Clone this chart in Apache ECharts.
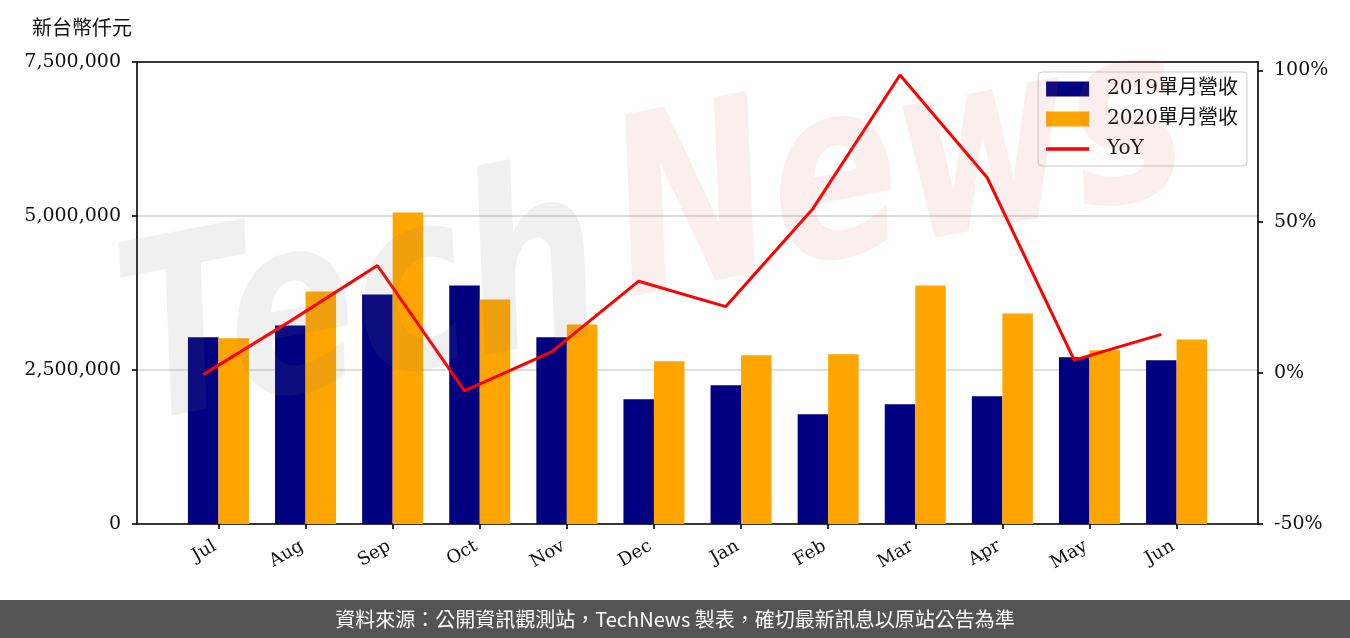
<!DOCTYPE html>
<html lang="zh-Hant">
<head>
<meta charset="utf-8">
<script src="https://cdn.jsdelivr.net/npm/echarts@6/dist/echarts.min.js"></script>
<style>
html,body{margin:0;padding:0;background:#fff;}
#chart{width:1350px;height:638px;}
</style>
</head>
<body>
<div id="chart"></div>
<script>
const months = ['Jul','Aug','Sep','Oct','Nov','Dec','Jan','Feb','Mar','Apr','May','Jun'];
const rev2019 = [3030000, 3224000, 3727000, 3872000, 3030000, 2025000, 2252000, 1782000, 1944000, 2074000, 2706000, 2657000];
const rev2020 = [3014000, 3775000, 5055000, 3645000, 3240000, 2641000, 2738000, 2754000, 3872000, 3419000, 2819000, 2997000];
const yoy = [-0.6, 17.1, 35.5, -6.0, 6.9, 30.3, 21.9, 54.3, 98.5, 64.6, 4.2, 12.7];
const leftTicks = [0, 2500000, 5000000, 7500000];
const rightTicks = [-50, 0, 50, 100];

const W = 0.35;
const tickIdx = months.map((m, i) => i);
const serif = '"DejaVu Serif", "Noto Sans CJK TC", serif';

const chart = echarts.init(document.getElementById('chart'), null, {renderer: 'canvas'});
chart.setOption({
  animation: false,
  backgroundColor: '#ffffff',
  grid: {left: 137, top: 62, width: 1121, height: 462, show: false, containLabel: false},
  legend: {
    right: 103, top: 72, orient: 'vertical',
    itemWidth: 43, itemHeight: 15, itemGap: 10,
    padding: [7, 9, 7, 8],
    borderColor: '#cccccc', borderWidth: 1, borderRadius: 4,
    backgroundColor: 'rgba(255,255,255,0.85)',
    textStyle: {fontFamily: serif, fontSize: 20, color: '#111', padding: [0, 0, 0, 13], lineHeight: 20},
    data: [
      {name: '2019單月營收', icon: 'rect'},
      {name: '2020單月營收', icon: 'rect'},
      {name: 'YoY', icon: 'path://M0,0H43V3.5H0Z'}
    ]
  },
  xAxis: [
    {
      type: 'value', min: -0.935, max: 11.935,
      splitLine: {show: false},
      axisLine: {onZero: false, lineStyle: {color: '#000', width: 1.6}},
      axisTick: {show: true, length: 5, lineStyle: {color: '#000', width: 1.6}, customValues: tickIdx},
      axisLabel: {customValues: tickIdx, rotate: 30, margin: 19, padding: [0, 4, 0, 0], fontFamily: serif, fontSize: 18, color: '#111',
        formatter: v => months[Math.round(v)] || ''}
    },
    {
      type: 'value', min: -0.935, max: 11.935, position: 'top',
      splitLine: {show: false},
      axisLine: {onZero: false, lineStyle: {color: '#000', width: 1.6}},
      axisTick: {show: false}, axisLabel: {show: false}
    }
  ],
  yAxis: [
    {
      type: 'value', min: 0, max: 7500000, interval: 2500000,
      name: '新台幣仟元', nameLocation: 'end', nameGap: 0,
      nameTextStyle: {fontFamily: serif, fontSize: 20, color: '#111', align: 'right', padding: [0, 5, 22, 0]},
      axisLine: {show: true, onZero: false, lineStyle: {color: '#000', width: 1.6}},
      axisTick: {show: true, length: 5, lineStyle: {color: '#000', width: 1.6}},
      axisLabel: {fontFamily: serif, fontSize: 19, color: '#111', margin: 16,
        formatter: v => v.toLocaleString('en-US')},
      splitLine: {show: true, lineStyle: {color: '#d3d3d3', width: 1.6}}
    },
    {
      type: 'value', min: -50, max: 102.8, position: 'right',
      axisLine: {show: true, onZero: false, lineStyle: {color: '#000', width: 1.6}},
      axisTick: {show: true, length: 5, lineStyle: {color: '#000', width: 1.6}, customValues: rightTicks},
      axisLabel: {fontFamily: serif, fontSize: 19, color: '#111', margin: 16, customValues: rightTicks,
        formatter: v => v + '%'},
      splitLine: {show: false}
    }
  ],
  series: [
    {
      name: '2019單月營收', type: 'bar', xAxisIndex: 0, yAxisIndex: 0,
      barWidth: 30.5, barGap: '0%',
      itemStyle: {color: '#000080'},
      data: rev2019.map((v, i) => [i, v])
    },
    {
      name: '2020單月營收', type: 'bar', xAxisIndex: 0, yAxisIndex: 0,
      barWidth: 30.5, barGap: '0%',
      itemStyle: {color: '#ffa500'},
      data: rev2020.map((v, i) => [i, v])
    },
    {
      name: 'YoY', type: 'line', xAxisIndex: 0, yAxisIndex: 1,
      symbol: 'none', showSymbol: false, z: 5,
      lineStyle: {color: '#ff0000', width: 3},
      itemStyle: {color: '#ff0000'},
      data: yoy.map((v, i) => [i - W / 2, v])
    }
  ],
  graphic: [
    {
      type: 'text', z: 100, silent: true,
      x: 150, y: 480, rotation: 0.19,
      style: {text: 'Tech', fontFamily: '"DejaVu Sans"', fontWeight: 'bold', fontStyle: 'italic', fontSize: 190,
        fill: 'rgba(120,120,120,0.11)', textVerticalAlign: 'bottom'},
      scaleY: 1.3
    },
    {
      type: 'text', z: 100, silent: true,
      x: 640, y: 355, rotation: 0.19,
      style: {text: 'News', fontFamily: '"DejaVu Sans"', fontWeight: 'bold', fontStyle: 'italic', fontSize: 190,
        fill: 'rgba(220,90,90,0.10)', textVerticalAlign: 'bottom'},
      scaleY: 1.3
    },
    {
      type: 'rect', z: 110, silent: true,
      shape: {x: 0, y: 600, width: 1350, height: 38},
      style: {fill: '#545454'}
    },
    {
      type: 'text', z: 111, silent: true,
      x: 675, y: 619,
      style: {text: '資料來源：公開資訊觀測站，TechNews 製表，確切最新訊息以原站公告為準',
        fontFamily: '"Noto Sans CJK TC", "Noto Sans", sans-serif', fontSize: 20, fill: '#ffffff',
        textAlign: 'center', textVerticalAlign: 'middle'}
    }
  ]
});
</script>
</body>
</html>
